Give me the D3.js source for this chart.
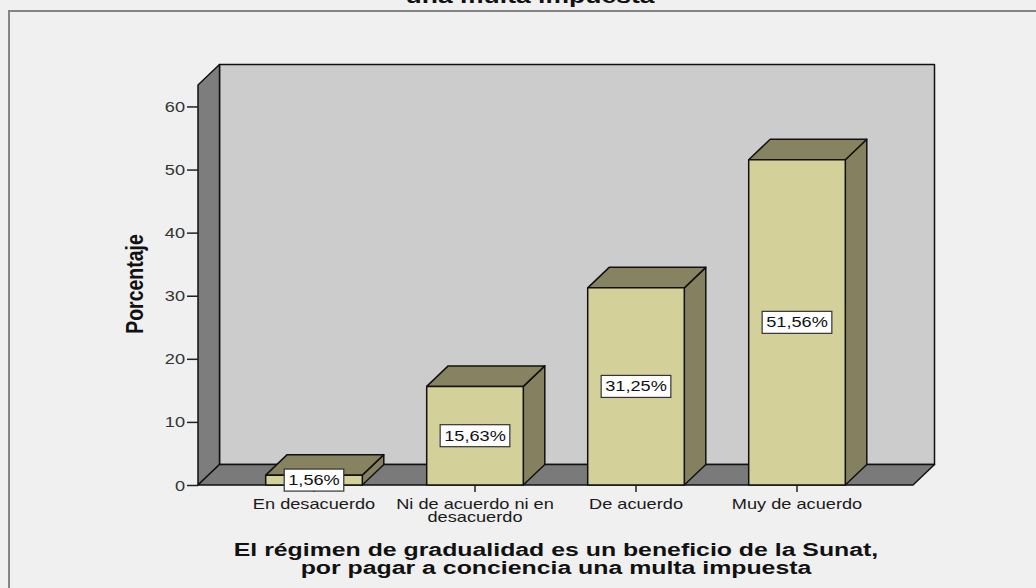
<!DOCTYPE html>
<html>
<head>
<meta charset="utf-8">
<script src="https://cdn.jsdelivr.net/npm/d3@7"></script>
<style>
  body { margin: 0; background: #f0f0f0; }
  svg { display: block; font-family: "Liberation Sans", Arial, sans-serif; }
</style>
</head>
<body>
<div id="chart"></div>
<script>
var svgWidth = 1036;
var svgHeight = 588;

// data
var categories = ["En desacuerdo", "Ni de acuerdo ni en desacuerdo", "De acuerdo", "Muy de acuerdo"];
var categoryLines = [["En desacuerdo"], ["Ni de acuerdo ni en", "desacuerdo"], ["De acuerdo"], ["Muy de acuerdo"]];
var percentages = [1.56, 15.63, 31.25, 51.56];
var valueLabels = ["1,56%", "15,63%", "31,25%", "51,56%"];
var yTicks = [0, 10, 20, 30, 40, 50, 60];
var titleLines = ["una multa impuesta"];
var xTitleLines = ["El régimen de gradualidad es un beneficio de la Sunat,", "por pagar a conciencia una multa impuesta"];
var yTitle = "Porcentaje";

// the original text is stretched sideways
var SX = 1.3;

// plot front face and 3d depth
var plot = { left: 198, right: 913, top: 85, bottom: 485 };
var DX = 21.5, DY = 20.5;

var svg = d3.select("#chart")
    .append("svg")
    .attr("width", svgWidth)
    .attr("height", svgHeight);

svg.append("rect")
    .attr("width", svgWidth).attr("height", svgHeight)
    .attr("fill", "#f0f0f0");

// outer frame
svg.append("rect")
    .attr("x", 9).attr("y", 11)
    .attr("width", 1100).attr("height", 700)
    .attr("fill", "#f0f0f0")
    .attr("stroke", "#858585")
    .attr("stroke-width", 2);

// scales
var xScale = d3.scaleBand()
    .domain(categories)
    .range([plot.left + 35.5, plot.right - 35.5])
    .paddingInner(0.4)
    .paddingOuter(0.2);

var yScale = d3.scaleLinear()
    .domain([0, 63.4])
    .range([plot.bottom, plot.top]);

var walls = svg.append("g")
    .attr("stroke", "#111")
    .attr("stroke-width", 1.5)
    .attr("stroke-linejoin", "round");

// back wall
walls.append("rect")
    .attr("x", plot.left + DX)
    .attr("y", plot.top - DY)
    .attr("width", plot.right - plot.left)
    .attr("height", plot.bottom - plot.top)
    .attr("fill", "#cccccc");

// left wall
walls.append("polygon")
    .attr("points", [
        [plot.left, plot.bottom], [plot.left, plot.top],
        [plot.left + DX, plot.top - DY], [plot.left + DX, plot.bottom - DY]
    ].join(" "))
    .attr("fill", "#7d7d7d");

// floor
walls.append("polygon")
    .attr("points", [
        [plot.left, plot.bottom], [plot.right, plot.bottom],
        [plot.right + DX, plot.bottom - DY], [plot.left + DX, plot.bottom - DY]
    ].join(" "))
    .attr("fill", "#7a7a7a");

// bars
var bw = xScale.bandwidth();
var y0 = yScale(0);
var bars = svg.append("g")
    .selectAll("g")
    .data(percentages)
    .enter()
    .append("g")
    .attr("stroke", "#111")
    .attr("stroke-width", 1.5)
    .attr("stroke-linejoin", "round");

bars.append("polygon")
    .attr("fill", "#858160")
    .attr("points", function(d, i) {
        var x = xScale(categories[i]), yv = yScale(d);
        return [[x + bw, yv], [x + bw + DX, yv - DY], [x + bw + DX, y0 - DY], [x + bw, y0]].join(" ");
    });

bars.append("polygon")
    .attr("fill", "#878361")
    .attr("points", function(d, i) {
        var x = xScale(categories[i]), yv = yScale(d);
        return [[x, yv], [x + DX, yv - DY], [x + bw + DX, yv - DY], [x + bw, yv]].join(" ");
    });

bars.append("rect")
    .attr("fill", "#d4d09a")
    .attr("x", function(d, i) { return xScale(categories[i]); })
    .attr("y", function(d) { return yScale(d); })
    .attr("width", bw)
    .attr("height", function(d) { return y0 - yScale(d); });

// y axis
var leftAxis = d3.axisLeft(yScale).tickValues(yTicks).tickSize(11).tickSizeOuter(0);
var yAxisG = svg.append("g")
    .attr("transform", `translate(${plot.left}, 0)`)
    .call(leftAxis);
yAxisG.select(".domain").remove();
yAxisG.selectAll("line").attr("stroke", "#222").attr("stroke-width", 1.5);
yAxisG.selectAll("text")
    .attr("font-family", "'Liberation Sans', Arial, sans-serif")
    .attr("font-size", "14px")
    .attr("fill", "#333")
    .attr("x", -13 / SX)
    .attr("dy", "0.36em")
    .attr("transform", `scale(${SX},1)`);

// x axis
var bottomAxis = d3.axisBottom(xScale).tickSize(7).tickSizeOuter(0);
var xAxisG = svg.append("g")
    .attr("transform", `translate(0, ${plot.bottom})`)
    .call(bottomAxis);
xAxisG.select(".domain").remove();
xAxisG.selectAll("line").attr("stroke", "#222").attr("stroke-width", 1.5);
xAxisG.selectAll("text").remove();
xAxisG.selectAll(".tick").each(function(d, i) {
    var t = d3.select(this).append("text")
        .attr("font-family", "'Liberation Sans', Arial, sans-serif")
        .attr("font-size", "14px")
        .attr("fill", "#1a1a1a")
        .attr("text-anchor", "middle")
        .attr("transform", `scale(${SX},1)`);
    categoryLines[i].forEach(function(line, k) {
        t.append("tspan").attr("x", 0).attr("y", 24 + k * 13.5).text(line);
    });
});

// value labels
var labels = svg.append("g")
    .selectAll("g")
    .data(percentages)
    .enter()
    .append("g")
    .attr("transform", function(d, i) {
        var cx = xScale(categories[i]) + bw / 2;
        var cy = (yScale(d) + y0) / 2;
        return `translate(${cx}, ${cy})`;
    });

var labelBox = labels.append("rect")
    .attr("fill", "#fff")
    .attr("stroke", "#333")
    .attr("stroke-width", 1.2);

var labelText = labels.append("text")
    .attr("text-anchor", "middle")
    .attr("dy", "0.36em")
    .attr("font-size", "14px")
    .attr("fill", "#111")
    .attr("transform", `scale(${SX},1)`)
    .text(function(d, i) { return valueLabels[i]; });

labelText.each(function(d, i) {
    var w = this.getComputedTextLength() * SX + 8;
    d3.select(labelBox.nodes()[i])
        .attr("x", -w / 2).attr("y", -11)
        .attr("width", w).attr("height", 22);
});

// titles
titleLines.forEach(function(line, k) {
    svg.append("text")
        .attr("transform", `translate(530, ${3 + k * 20}) scale(1.36,1)`)
        .attr("text-anchor", "middle")
        .attr("font-weight", "bold")
        .attr("font-size", "19.5px")
        .attr("fill", "#111")
        .text(line);
});

xTitleLines.forEach(function(line, k) {
    svg.append("text")
        .attr("transform", `translate(556, ${555.5 + k * 18.5}) scale(1.38,1)`)
        .attr("text-anchor", "middle")
        .attr("font-weight", "bold")
        .attr("font-size", "18px")
        .attr("fill", "#111")
        .text(line);
});

svg.append("text")
    .attr("transform", "translate(143, 284) scale(1.2,1) rotate(-90)")
    .attr("text-anchor", "middle")
    .attr("font-weight", "bold")
    .attr("font-size", "19.5px")
    .attr("fill", "#111")
    .text(yTitle);
</script>
</body>
</html>
